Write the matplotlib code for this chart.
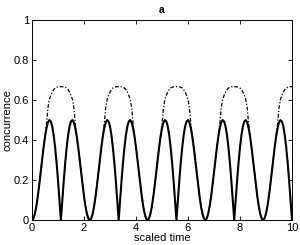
import matplotlib
matplotlib.use("Agg")
import matplotlib.pyplot as plt

plt.rcParams['font.family'] = ['Liberation Sans', 'DejaVu Sans']

# scaled time grid (step ~0.0556)
t = [round(i * 10 / 180, 4) for i in range(181)]

# concurrence (solid), read per half-period
solid = [
    0.000, 0.008, 0.031, 0.069, 0.118, 0.176, 0.239, 0.302, 0.363, 0.417, 0.459, 0.488, 0.500, 0.493, 0.468, 0.424, 0.363, 0.287, 0.198, 0.101, 0.000,
    0.101, 0.198, 0.287, 0.363, 0.424, 0.468, 0.493, 0.500, 0.488, 0.459, 0.417, 0.363, 0.302, 0.239, 0.176, 0.118, 0.069, 0.031, 0.008, 0.000,
    0.008, 0.031, 0.069, 0.118, 0.176, 0.239, 0.302, 0.363, 0.417, 0.459, 0.488, 0.500, 0.493, 0.468, 0.424, 0.363, 0.287, 0.198, 0.101, 0.000,
    0.101, 0.198, 0.287, 0.363, 0.424, 0.468, 0.493, 0.500, 0.488, 0.459, 0.417, 0.363, 0.302, 0.239, 0.176, 0.118, 0.069, 0.031, 0.008, 0.000,
    0.008, 0.031, 0.069, 0.118, 0.176, 0.239, 0.302, 0.363, 0.417, 0.459, 0.488, 0.500, 0.493, 0.468, 0.424, 0.363, 0.287, 0.198, 0.101, 0.000,
    0.101, 0.198, 0.287, 0.363, 0.424, 0.468, 0.493, 0.500, 0.488, 0.459, 0.417, 0.363, 0.302, 0.239, 0.176, 0.118, 0.069, 0.031, 0.008, 0.000,
    0.008, 0.031, 0.069, 0.118, 0.176, 0.239, 0.302, 0.363, 0.417, 0.459, 0.488, 0.500, 0.493, 0.468, 0.424, 0.363, 0.287, 0.198, 0.101, 0.000,
    0.101, 0.198, 0.287, 0.363, 0.424, 0.468, 0.493, 0.500, 0.488, 0.459, 0.417, 0.363, 0.302, 0.239, 0.176, 0.118, 0.069, 0.031, 0.008, 0.000,
    0.008, 0.031, 0.069, 0.118, 0.176, 0.239, 0.302, 0.363, 0.417, 0.459, 0.488, 0.500, 0.493, 0.468, 0.424, 0.363, 0.287, 0.198, 0.101, 0.000,
]

# second concurrence curve (dash-dot)
dashed = [
    0.000, 0.008, 0.031, 0.069, 0.118, 0.176, 0.239, 0.302, 0.363, 0.417, 0.480, 0.560, 0.603, 0.624, 0.640, 0.652, 0.660, 0.664, 0.666, 0.667, 0.667,
    0.667, 0.666, 0.664, 0.660, 0.652, 0.640, 0.624, 0.603, 0.560, 0.480, 0.417, 0.363, 0.302, 0.239, 0.176, 0.118, 0.069, 0.031, 0.008, 0.000,
    0.008, 0.031, 0.069, 0.118, 0.176, 0.239, 0.302, 0.363, 0.417, 0.480, 0.560, 0.603, 0.624, 0.640, 0.652, 0.660, 0.664, 0.666, 0.667, 0.667,
    0.667, 0.666, 0.664, 0.660, 0.652, 0.640, 0.624, 0.603, 0.560, 0.480, 0.417, 0.363, 0.302, 0.239, 0.176, 0.118, 0.069, 0.031, 0.008, 0.000,
    0.008, 0.031, 0.069, 0.118, 0.176, 0.239, 0.302, 0.363, 0.417, 0.480, 0.560, 0.603, 0.624, 0.640, 0.652, 0.660, 0.664, 0.666, 0.667, 0.667,
    0.667, 0.666, 0.664, 0.660, 0.652, 0.640, 0.624, 0.603, 0.560, 0.480, 0.417, 0.363, 0.302, 0.239, 0.176, 0.118, 0.069, 0.031, 0.008, 0.000,
    0.008, 0.031, 0.069, 0.118, 0.176, 0.239, 0.302, 0.363, 0.417, 0.480, 0.560, 0.603, 0.624, 0.640, 0.652, 0.660, 0.664, 0.666, 0.667, 0.667,
    0.667, 0.666, 0.664, 0.660, 0.652, 0.640, 0.624, 0.603, 0.560, 0.480, 0.417, 0.363, 0.302, 0.239, 0.176, 0.118, 0.069, 0.031, 0.008, 0.000,
    0.008, 0.031, 0.069, 0.118, 0.176, 0.239, 0.302, 0.363, 0.417, 0.480, 0.560, 0.603, 0.624, 0.640, 0.652, 0.660, 0.664, 0.666, 0.667, 0.667,
]

xticks = [0, 2, 4, 6, 8, 10]
xticklabels = ["0", "2", "4", "6", "8", "10"]
yticks = [0, 0.2, 0.4, 0.6, 0.8, 1]
yticklabels = ["0", "0.2", "0.4", "0.6", "0.8", "1"]

fig = plt.figure(figsize=(3.0, 2.45), dpi=100)
ax = fig.add_axes([0.1067, 0.102, 0.8666, 0.816])

ax.plot(t, solid, color="black", linewidth=1.5, solid_joinstyle="round")
ax.plot(t, dashed, color="black", linewidth=0.9, linestyle="-.", dashes=(3, 1.5, 1, 1.5))

ax.set_xlim(0, 10)
ax.set_ylim(0, 1)
ax.set_xticks(xticks)
ax.set_xticklabels(xticklabels)
ax.set_yticks(yticks)
ax.set_yticklabels(yticklabels)
ax.tick_params(direction="in", length=3, width=0.6, labelsize=8, top=True, right=True, pad=2)
for s in ax.spines.values():
    s.set_linewidth(0.7)

ax.set_title("a", fontsize=7.5, fontweight="bold", pad=5)
ax.set_xlabel("scaled time", fontsize=8, labelpad=0)
ax.set_ylabel("concurrence", fontsize=8, labelpad=1)

fig.savefig("out.png", dpi=100)
